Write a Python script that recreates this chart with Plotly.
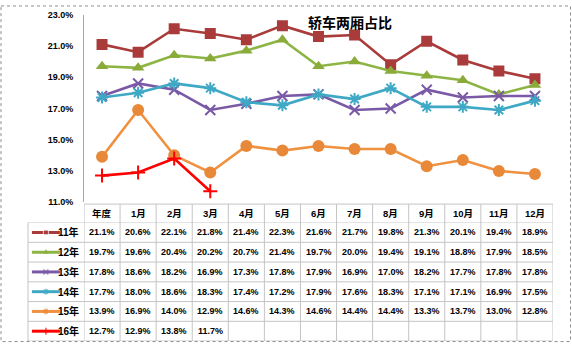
import plotly.graph_objects as go

W, H = 572, 348

# ---- data -------------------------------------------------------------
months = ["年度", "1月", "2月", "3月", "4月", "5月", "6月",
          "7月", "8月", "9月", "10月", "11月", "12月"]
series_names = ["11年", "12年", "13年", "14年", "15年", "16年"]

y11 = [21.1, 20.6, 22.1, 21.8, 21.4, 22.3, 21.6, 21.7, 19.8, 21.3, 20.1, 19.4, 18.9]
y12 = [19.7, 19.6, 20.4, 20.2, 20.7, 21.4, 19.7, 20.0, 19.4, 19.1, 18.8, 17.9, 18.5]
y13 = [17.8, 18.6, 18.2, 16.9, 17.3, 17.8, 17.9, 16.9, 17.0, 18.2, 17.7, 17.8, 17.8]
y14 = [17.7, 18.0, 18.6, 18.3, 17.4, 17.2, 17.9, 17.6, 18.3, 17.1, 17.1, 16.9, 17.5]
y15 = [13.9, 16.9, 14.0, 12.9, 14.6, 14.3, 14.6, 14.4, 14.4, 13.3, 13.7, 13.0, 12.8]
y16 = [12.7, 12.9, 13.8, 11.7]

y_ticks = [11, 13, 15, 17, 19, 21, 23]

# ---- styles -----------------------------------------------------------
values = [y11, y12, y13, y14, y15, y16]
line_colors = ["#A93B3B", "#8DB544", "#7A5AA6", "#3FA9C5", "#F0913F", "#FF0000"]
marker_colors = ["#A93B3B", "#8AAA3A", "#7A5AA6", "#3FA9C5", "#E8893A", "#FF0000"]
symbols = ["square", "triangle-up", "x-thin", "asterisk", "circle", "cross-thin"]
sizes = [11, 11, 10, 10, 12, 10]
open_symbol = [False, False, True, True, False, True]

FONT = "Liberation Sans, Arial, Noto Sans CJK SC, sans-serif"


def px_x(px):
    return px / W


def px_y(py):
    return 1 - py / H


# pixel layout
PLOT_L, PLOT_R = 84, 553
PLOT_T, PLOT_B = 10, 203
TAB_T, HEAD_B, TAB_B = 205, 224, 346
LEG_L = 28

fig = go.Figure()

# chart lines
for name, vals, lc, mc, sym, sz, op in zip(series_names, values, line_colors,
                                           marker_colors, symbols, sizes, open_symbol):
    marker = dict(symbol=sym, size=sz, color=mc)
    if op:
        marker["line"] = dict(color=mc, width=2)
    fig.add_trace(go.Scatter(
        x=months[:len(vals)], y=vals, mode="lines+markers", name=name,
        line=dict(color=lc, width=2.6), marker=marker,
        xaxis="x", yaxis="y", showlegend=False, hoverinfo="skip"))

# legend keys in the first column of the data table
for name, lc, mc, sym, op in zip(series_names, line_colors, marker_colors, symbols, open_symbol):
    marker = dict(symbol=sym, size=[0, 5, 0], color=mc)
    if op:
        marker["line"] = dict(color=mc, width=1.5)
    fig.add_trace(go.Scatter(
        x=[0.07, 0.32, 0.57], y=[name, name, name], mode="lines+markers",
        line=dict(color=lc, width=3), marker=marker,
        xaxis="x2", yaxis="y2", showlegend=False, hoverinfo="skip"))

annotations = []

# table header
for m in months:
    annotations.append(dict(
        x=m, xref="x", y=px_y((TAB_T + HEAD_B) / 2), yref="paper",
        text=m, showarrow=False, xanchor="center", yanchor="middle",
        font=dict(family=FONT, size=9.5, color="#000", weight="bold")))

# table body
for name, vals in zip(series_names, values):
    annotations.append(dict(
        x=px_x(81), xref="paper", y=name, yref="y2", text=name,
        showarrow=False, xanchor="right", yanchor="middle",
        font=dict(family=FONT, size=10, color="#000", weight="bold")))
    for m, v in zip(months, vals):
        annotations.append(dict(
            x=m, xref="x", y=name, yref="y2", text=f"{v:.1f}%",
            showarrow=False, xanchor="center", yanchor="middle",
            font=dict(family=FONT, size=9, color="#000", weight="bold")))

# chart title
annotations.append(dict(
    x=px_x(350), xref="paper", y=px_y(18), yref="paper", text="轿车两厢占比",
    showarrow=False, xanchor="center", yanchor="middle",
    font=dict(family="Noto Sans CJK SC", size=14, color="#000", weight="bold")))

# table grid
grid = dict(color="#C4C4C4", width=1)
shapes = []
n_cols = len(months)
n_rows = len(series_names)
for i in range(n_cols + 1):
    shapes.append(dict(type="line", xref="x", yref="paper",
                       x0=i - 0.5, x1=i - 0.5, y0=px_y(TAB_T), y1=px_y(TAB_B), line=grid))
shapes.append(dict(type="line", xref="paper", yref="paper",
                   x0=px_x(LEG_L), x1=px_x(LEG_L), y0=px_y(HEAD_B), y1=px_y(TAB_B), line=grid))
shapes.append(dict(type="line", xref="x", yref="paper", x0=-0.5, x1=n_cols - 0.5,
                   y0=px_y(TAB_T), y1=px_y(TAB_T), line=grid))
for j in range(n_rows + 1):
    shapes.append(dict(type="line", xref="paper", yref="y2",
                       x0=px_x(LEG_L), x1=px_x(PLOT_R), y0=j - 0.5, y1=j - 0.5, line=grid))

# outer frame
shapes.append(dict(type="rect", xref="paper", yref="paper",
                   x0=px_x(1), x1=px_x(570.5), y0=px_y(1), y1=px_y(346.5),
                   line=dict(color="#8C8C8C", width=1, dash="dot")))

fig.update_layout(
    width=W, height=H,
    margin=dict(l=0, r=0, t=0, b=0),
    paper_bgcolor="white", plot_bgcolor="white",
    showlegend=False,
    xaxis=dict(domain=[px_x(PLOT_L), px_x(PLOT_R)], type="category",
               categoryarray=months, range=[-0.5, n_cols - 0.5],
               showticklabels=False, showgrid=False, zeroline=False,
               showline=False, ticks="", anchor="y", fixedrange=True),
    yaxis=dict(domain=[px_y(PLOT_B), px_y(PLOT_T)], range=[11, 23],
               tickvals=y_ticks, ticktext=[f"{t:.1f}%" for t in y_ticks],
               showgrid=False, zeroline=False, showline=True,
               linecolor="#A6A6A6", linewidth=1, ticks="",
               ticklabelstandoff=8, anchor="x",
               tickfont=dict(family=FONT, size=9, color="#000", weight="bold")),
    xaxis2=dict(domain=[px_x(LEG_L), px_x(PLOT_L)], range=[0, 1],
                visible=False, anchor="y2"),
    yaxis2=dict(domain=[px_y(TAB_B), px_y(HEAD_B)], type="category",
                categoryarray=series_names, range=[n_rows - 0.5, -0.5],
                visible=False, anchor="x2"),
    annotations=annotations,
    shapes=shapes,
)

fig.write_html("out.html")
